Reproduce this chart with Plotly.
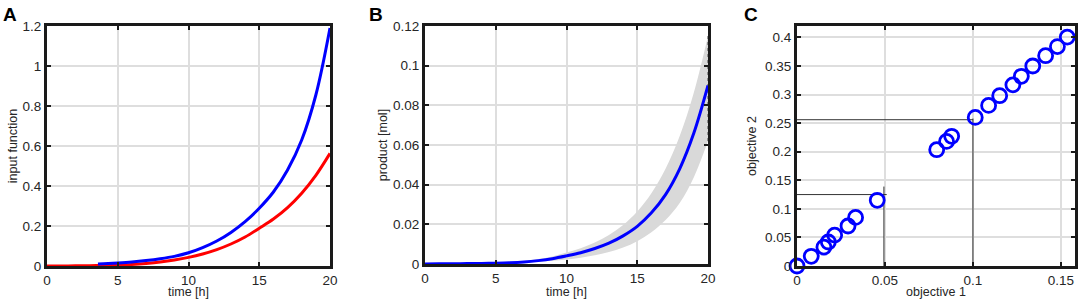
import plotly.graph_objects as go
from plotly.subplots import make_subplots

# panel A: input functions over time
t_blue_a = [3.6, 4, 5, 6, 7, 8, 9, 10, 11, 12, 13, 14, 15, 16, 17, 18, 19, 20]
u_blue = [0.010, 0.011, 0.015, 0.020, 0.027, 0.036, 0.048, 0.066, 0.092, 0.125,
          0.168, 0.222, 0.289, 0.370, 0.480, 0.630, 0.855, 1.190]
t_red_a = list(range(21))
u_red = [0.0, 0.0002, 0.0007, 0.0015, 0.003, 0.005, 0.008, 0.013, 0.020, 0.030, 0.043,
         0.060, 0.082, 0.110, 0.145, 0.189, 0.235, 0.292, 0.364, 0.453, 0.563]

# panel B: product, mean and spread
t_b = list(range(21))
prod_mean = [0.0, 0.0001, 0.0001, 0.0002, 0.0003, 0.0004, 0.0006, 0.0010, 0.0017, 0.0027,
             0.0041, 0.0057, 0.0078, 0.0105, 0.0142, 0.0190, 0.0258, 0.0350, 0.0480,
             0.0660, 0.0900]
prod_hi = [0.0, 0.0001, 0.0001, 0.0002, 0.0004, 0.0006, 0.0009, 0.0015, 0.0025, 0.0038,
           0.0058, 0.0080, 0.0108, 0.0146, 0.0197, 0.0265, 0.0357, 0.0480, 0.0645,
           0.0865, 0.1150]
prod_lo = [0.0, 0.0, 0.0001, 0.0001, 0.0002, 0.0003, 0.0004, 0.0007, 0.0011, 0.0016,
           0.0023, 0.0032, 0.0044, 0.0060, 0.0083, 0.0115, 0.0160, 0.0222, 0.0308,
           0.0438, 0.0620]

# panel C: pareto points and the two guide corners
obj1 = [0.0, 0.0081, 0.0153, 0.0178, 0.0214, 0.0290, 0.0333, 0.0456, 0.0794, 0.0850,
        0.0879, 0.1013, 0.1089, 0.1152, 0.1227, 0.1275, 0.1340, 0.1413, 0.1480, 0.1536]
obj2 = [0.0, 0.017, 0.033, 0.042, 0.054, 0.070, 0.085, 0.115, 0.2035, 0.218,
        0.227, 0.260, 0.281, 0.298, 0.317, 0.332, 0.350, 0.368, 0.384, 0.4006]
guide1_x = [0.0, 0.051, None, 0.0494, 0.0494]
guide1_y = [0.125, 0.125, None, 0.0, 0.139]
guide2_x = [0.0, 0.1, None, 0.1, 0.1]
guide2_y = [0.256, 0.256, None, 0.0, 0.258]

BLUE, RED = "#0000ff", "#ff0000"
FONT = "Liberation Sans"
TXT = "#262626"

fig = make_subplots(rows=1, cols=3)

fig.add_trace(go.Scatter(x=t_red_a, y=u_red, mode="lines", line=dict(color=RED, width=3, shape="spline")),
              row=1, col=1)
fig.add_trace(go.Scatter(x=t_blue_a, y=u_blue, mode="lines", line=dict(color=BLUE, width=3, shape="spline")),
              row=1, col=1)

fig.add_trace(go.Scatter(x=t_b, y=prod_lo, mode="lines", line=dict(width=0, shape="spline"),
                         hoverinfo="skip"), row=1, col=2)
fig.add_trace(go.Scatter(x=t_b, y=prod_hi, mode="lines", line=dict(width=0, shape="spline"),
                         fill="tonexty", fillcolor="#d9d9d9", hoverinfo="skip"), row=1, col=2)
fig.add_trace(go.Scatter(x=[t_b[-1], t_b[-1]], y=[prod_lo[-1], prod_hi[-1]], mode="lines",
                         line=dict(color="#444", width=1, dash="dot")), row=1, col=2)
fig.add_trace(go.Scatter(x=t_b, y=prod_mean, mode="lines", line=dict(color=BLUE, width=3, shape="spline")),
              row=1, col=2)

fig.add_trace(go.Scatter(x=guide1_x, y=guide1_y, mode="lines", line=dict(color="#333", width=1)),
              row=1, col=3)
fig.add_trace(go.Scatter(x=guide2_x, y=guide2_y, mode="lines", line=dict(color="#333", width=1)),
              row=1, col=3)
fig.add_trace(go.Scatter(x=obj1, y=obj2, mode="markers", cliponaxis=False,
                         marker=dict(symbol="circle-open", size=14, color=BLUE, line=dict(width=2.8))),
              row=1, col=3)

W, H = 1079, 299
ydom = [1 - 266 / H, 1 - 26 / H]
axis_common = dict(
    automargin=False,
    showline=True, linecolor="#1a1a1a", linewidth=3, mirror="ticks",
    ticks="inside", ticklen=4, tickwidth=2, tickcolor="#1a1a1a",
    showgrid=True, gridcolor="#dedede", gridwidth=2, zeroline=False,
    tickfont=dict(family=FONT, size=13.5, color=TXT),
    title_font=dict(family=FONT, size=12.5, color=TXT),
)

fig.update_xaxes(axis_common)
fig.update_yaxes(axis_common)

fig.update_xaxes(domain=[47 / W, 330 / W], range=[0, 20], dtick=5,
                 title=dict(text="time [h]", standoff=6), row=1, col=1)
fig.update_yaxes(domain=ydom, range=[0, 1.2], dtick=0.2,
                 title=dict(text="input function", standoff=3), row=1, col=1)
fig.update_xaxes(domain=[425 / W, 708 / W], range=[0, 20], dtick=5,
                 title=dict(text="time [h]", standoff=6), row=1, col=2)
fig.update_yaxes(domain=[1 - 264 / H, 1 - 26 / H], range=[0, 0.12], dtick=0.02,
                 title=dict(text="product [mol]", standoff=3), row=1, col=2)
fig.update_xaxes(domain=[797 / W, 1075 / W], range=[0, 0.158], dtick=0.05,
                 title=dict(text="objective 1", standoff=6), row=1, col=3)
fig.update_yaxes(domain=ydom, range=[0, 0.42], dtick=0.05,
                 title=dict(text="objective 2", standoff=6), row=1, col=3)

for letter, xpx in [("A", 1), ("B", 367), ("C", 742)]:
    fig.add_annotation(text="<b>%s</b>" % letter, x=xpx / W, y=1 - 2 / H, xref="paper", yref="paper",
                       xanchor="left", yanchor="top", showarrow=False,
                       font=dict(family=FONT, size=19, color="black"))

fig.update_layout(
    width=W, height=H, margin=dict(l=0, r=0, t=0, b=0),
    paper_bgcolor="white", plot_bgcolor="white", showlegend=False,
)

# drop the page's default body margin so the figure sits at the window corner
fig.write_html("out.html", config={"displayModeBar": False},
               post_script="document.body.style.margin='0';")
